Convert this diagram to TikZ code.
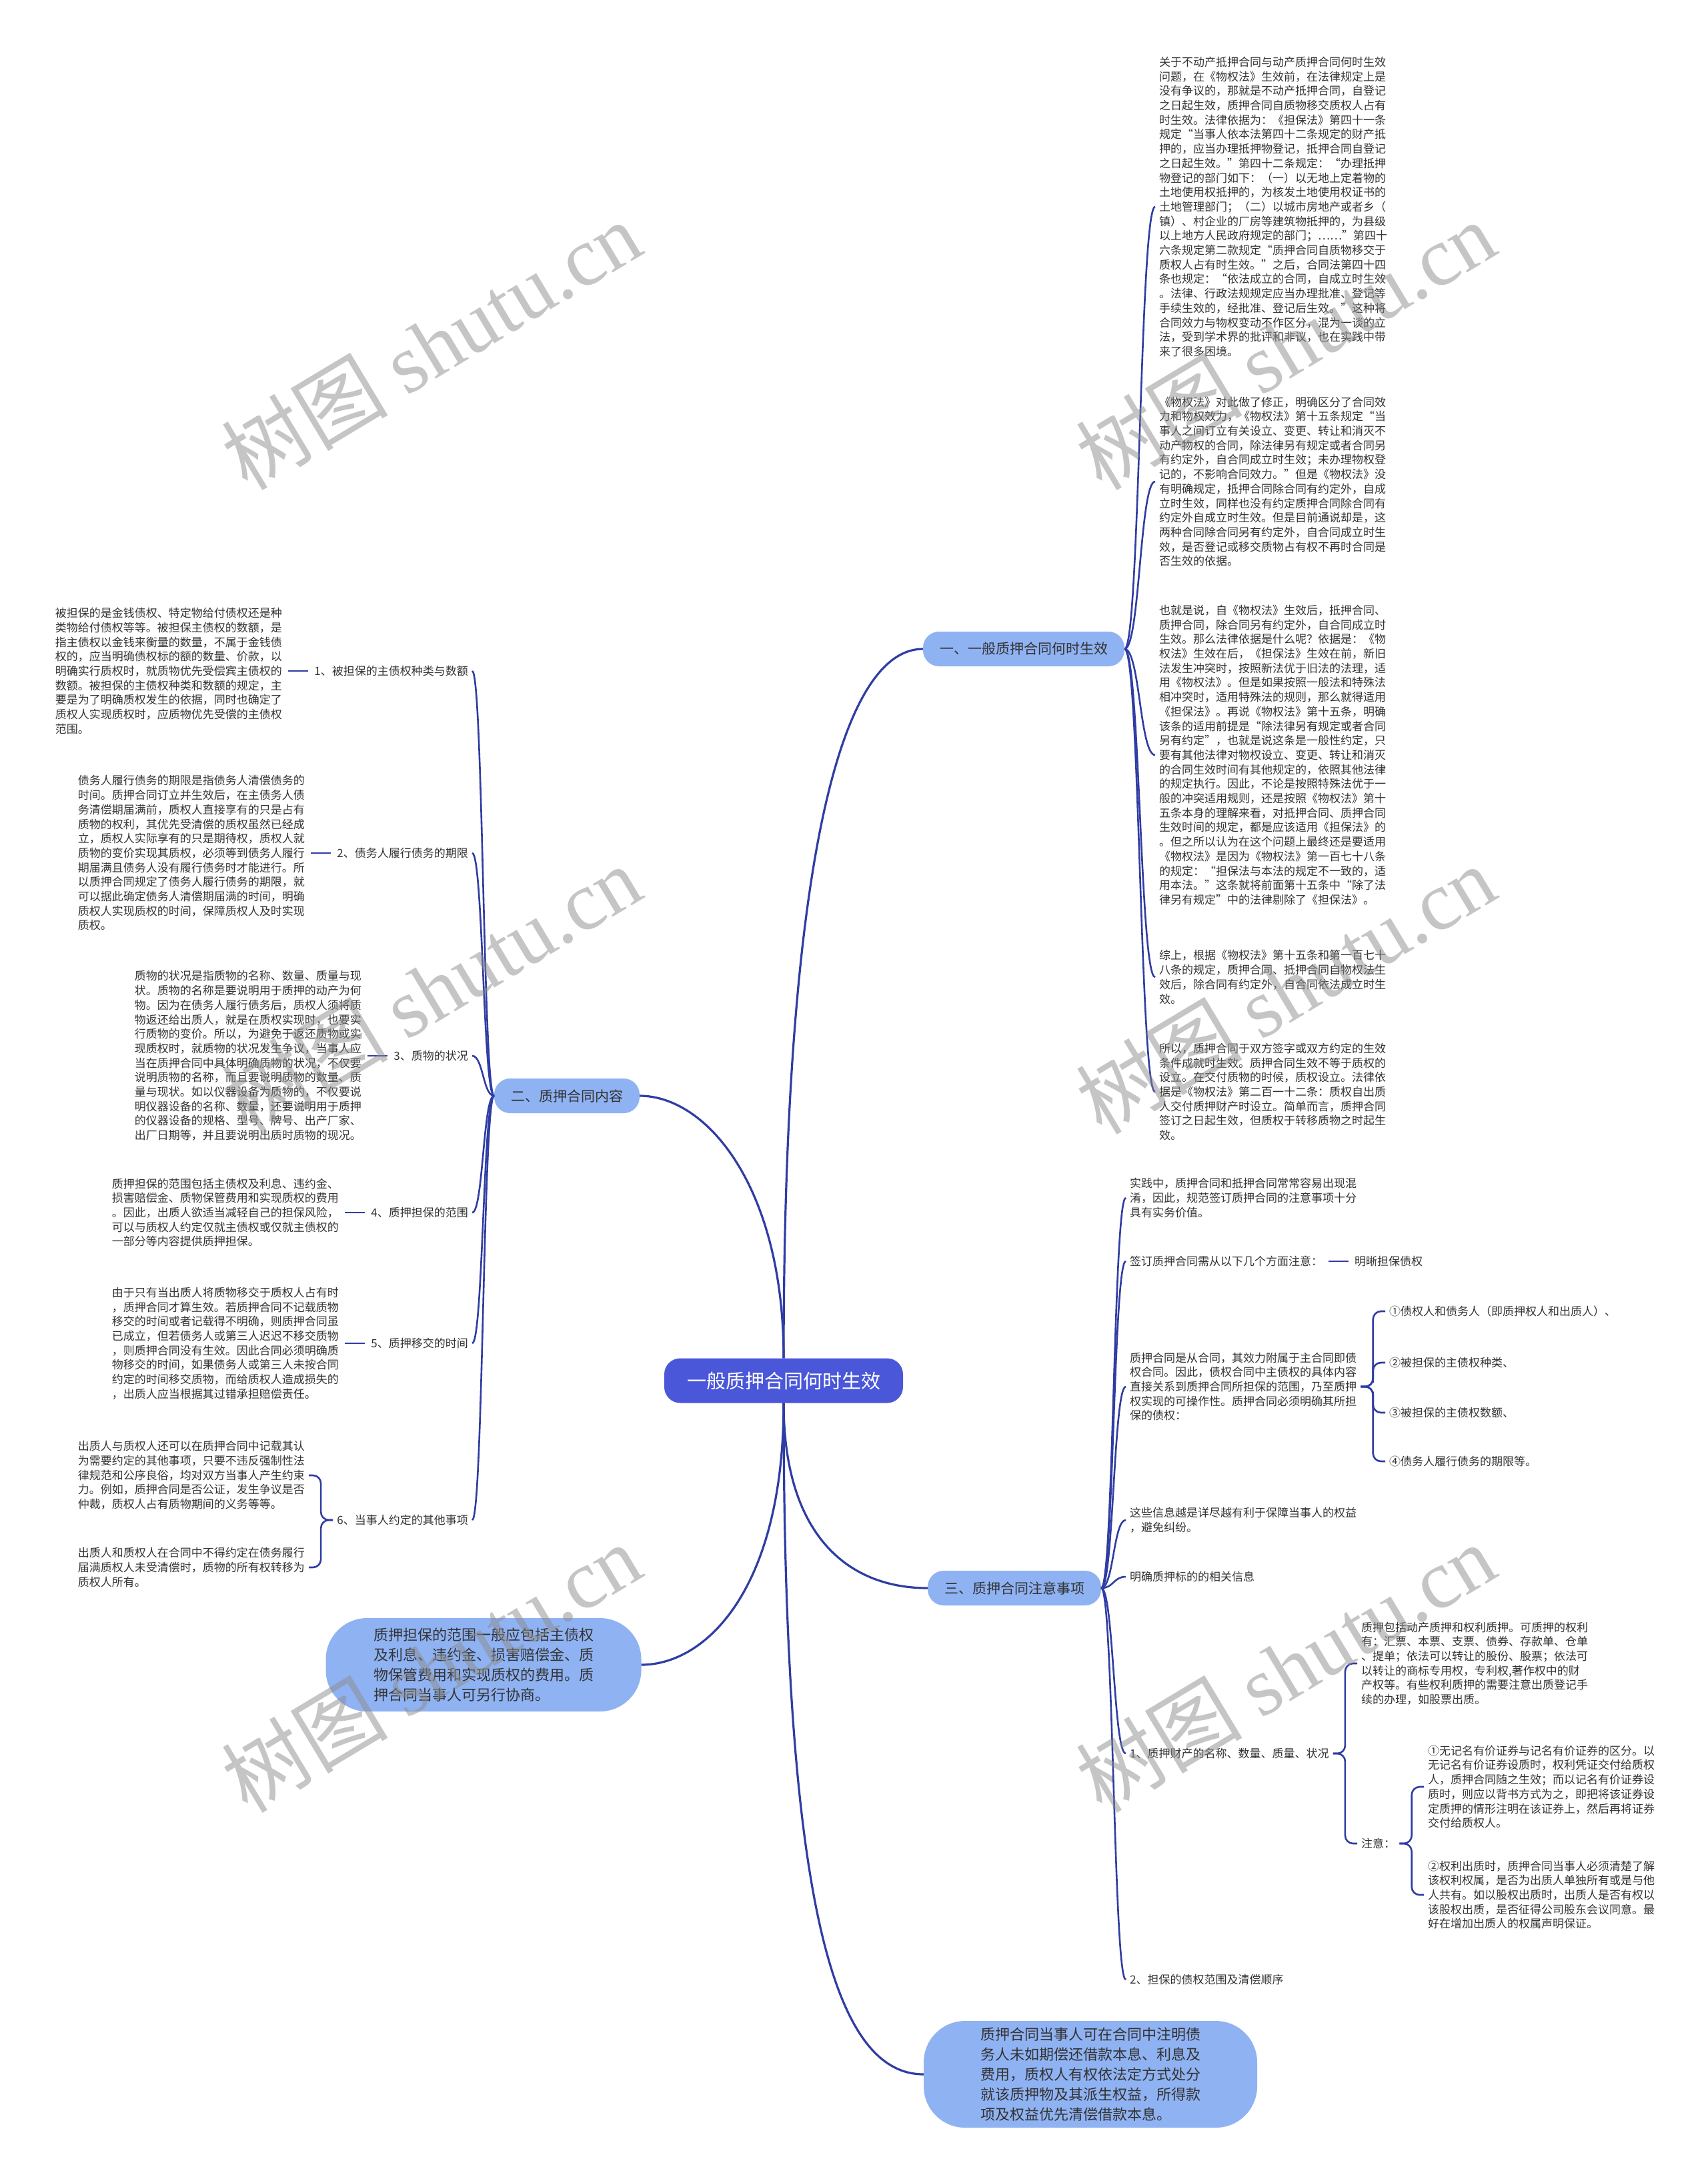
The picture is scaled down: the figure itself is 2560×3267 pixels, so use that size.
\documentclass[tikz,border=0pt]{standalone}
\usepackage{fontspec}
\setmainfont{Noto Sans CJK SC}
\newfontfamily\wmserif{Liberation Serif}
\usetikzlibrary{calc,positioning}
\definecolor{linec}{HTML}{2F3DA3}
\definecolor{rootc}{HTML}{4A57D8}
\definecolor{branchc}{HTML}{8FB2F2}
\definecolor{textc}{HTML}{333333}
\newcommand{\sconn}[2]{\draw[link] let \p1=(#1), \p2=(#2) in (\p1) .. controls ({(\x1+\x2)/2},\y1) and ({(\x1+\x2)/2},\y2) .. (\p2);}
\newcommand{\bconn}[2]{\draw[link,rounded corners=12pt] let \p1=(#1), \p2=(#2) in (\p1) -| ({(\x1+\x2)/2},{(\y1+\y2)/2}) |- (\p2);}
\begin{document}
\begin{tikzpicture}[x=1pt,y=-1pt,
  link/.style={draw=linec,line width=2.6pt},
  rootlink/.style={draw=linec,line width=3.2pt},
  dashlink/.style={draw=linec,line width=2.6pt,shorten <=3pt,shorten >=3pt},
  txt/.style={font=\fontsize{17pt}{21.7pt}\selectfont,align=left,inner sep=6pt,text=textc},
  rootnode/.style={fill=rootc,text=white,rounded corners=24pt,minimum width=358pt,minimum height=67pt,font=\fontsize{29pt}{34pt}\selectfont},
  branch/.style={fill=branchc,text=textc,rounded corners=24pt,minimum height=52pt,inner xsep=25pt,font=\fontsize{21pt}{25pt}\selectfont},
  bubble/.style={fill=branchc,text=textc,rounded corners=62pt,align=left,font=\fontsize{22pt}{30pt}\selectfont},
  wm/.style={text=black!45,opacity=0.5,rotate=31,font=\fontsize{125pt}{130pt}\selectfont}
]
\useasboundingbox (0,0) rectangle (2560,3267);
\fill[white] (0,0) rectangle (2560,3267);

% root and main branches
\node[rootnode] (root) at (1175,2070) {一般质押合同何时生效};
\node[branch] (b1) at (1535,973) {一、一般质押合同何时生效};
\node[branch] (b2) at (850,1643) {二、质押合同内容};
\node[branch] (b3) at (1521,2381) {三、质押合同注意事项};
\node[bubble,minimum width=473pt,minimum height=140pt] (bl) at (725,2496) {质押担保的范围一般应包括主债权\\及利息、违约金、损害赔偿金、质\\物保管费用和实现质权的费用。质\\押合同当事人可另行协商。};
\node[bubble,minimum width=500pt,minimum height=160pt] (bb) at (1635,3110) {质押合同当事人可在合同中注明债\\务人未如期偿还借款本息、利息及\\费用，质权人有权依法定方式处分\\就该质押物及其派生权益，所得款\\项及权益优先清偿借款本息。};

\draw[rootlink] (root.north) .. controls (1175,1300) and (1260,973) .. (b1.west);
\draw[rootlink] (root.north) .. controls (1175,1780) and (1060,1643) .. (b2.east);
\draw[rootlink] (root.south) .. controls (1175,2380) and (1060,2496) .. (bl.east);
\draw[rootlink] (root.south) .. controls (1175,2300) and (1270,2381) .. (b3.west);
\draw[rootlink] (root.south) .. controls (1175,2850) and (1250,3110) .. (bb.west);

% branch 1 blocks
\node[txt,anchor=west] (R1) at (1732,310) {关于不动产抵押合同与动产质押合同何时生效\\问题，在《物权法》生效前，在法律规定上是\\没有争议的，那就是不动产抵押合同，自登记\\之日起生效，质押合同自质物移交质权人占有\\时生效。法律依据为：《担保法》第四十一条\\规定“当事人依本法第四十二条规定的财产抵\\押的，应当办理抵押物登记，抵押合同自登记\\之日起生效。”第四十二条规定：“办理抵押\\物登记的部门如下：（一）以无地上定着物的\\土地使用权抵押的，为核发土地使用权证书的\\土地管理部门；（二）以城市房地产或者乡（\\镇）、村企业的厂房等建筑物抵押的，为县级\\以上地方人民政府规定的部门；……”第四十\\六条规定第二款规定“质押合同自质物移交于\\质权人占有时生效。”之后，合同法第四十四\\条也规定：“依法成立的合同，自成立时生效\\。法律、行政法规规定应当办理批准、登记等\\手续生效的，经批准、登记后生效。”这种将\\合同效力与物权变动不作区分，混为一谈的立\\法，受到学术界的批评和非议，也在实践中带\\来了很多困境。};
\node[txt,anchor=west] (R2) at (1732,722) {《物权法》对此做了修正，明确区分了合同效\\力和物权效力，《物权法》第十五条规定“当\\事人之间订立有关设立、变更、转让和消灭不\\动产物权的合同，除法律另有规定或者合同另\\有约定外，自合同成立时生效；未办理物权登\\记的，不影响合同效力。”但是《物权法》没\\有明确规定，抵押合同除合同有约定外，自成\\立时生效，同样也没有约定质押合同除合同有\\约定外自成立时生效。但是目前通说却是，这\\两种合同除合同另有约定外，自合同成立时生\\效，是否登记或移交质物占有权不再时合同是\\否生效的依据。};
\node[txt,anchor=west] (R3) at (1732,1132) {也就是说，自《物权法》生效后，抵押合同、\\质押合同，除合同另有约定外，自合同成立时\\生效。那么法律依据是什么呢？依据是：《物\\权法》生效在后，《担保法》生效在前，新旧\\法发生冲突时，按照新法优于旧法的法理，适\\用《物权法》。但是如果按照一般法和特殊法\\相冲突时，适用特殊法的规则，那么就得适用\\《担保法》。再说《物权法》第十五条，明确\\该条的适用前提是“除法律另有规定或者合同\\另有约定”，也就是说这条是一般性约定，只\\要有其他法律对物权设立、变更、转让和消灭\\的合同生效时间有其他规定的，依照其他法律\\的规定执行。因此，不论是按照特殊法优于一\\般的冲突适用规则，还是按照《物权法》第十\\五条本身的理解来看，对抵押合同、质押合同\\生效时间的规定，都是应该适用《担保法》的\\。但之所以认为在这个问题上最终还是要适用\\《物权法》是因为《物权法》第一百七十八条\\的规定：“担保法与本法的规定不一致的，适\\用本法。”这条就将前面第十五条中“除了法\\律另有规定”中的法律剔除了《担保法》。};
\node[txt,anchor=west] (R4) at (1732,1465) {综上，根据《物权法》第十五条和第一百七十\\八条的规定，质押合同、抵押合同自物权法生\\效后，除合同有约定外，自合同依法成立时生\\效。};
\node[txt,anchor=west] (R5) at (1732,1637) {所以，质押合同于双方签字或双方约定的生效\\条件成就时生效。质押合同生效不等于质权的\\设立。在交付质物的时候，质权设立。法律依\\据是《物权法》第二百一十二条：质权自出质\\人交付质押财产时设立。简单而言，质押合同\\签订之日起生效，但质权于转移质物之时起生\\效。};
\sconn{b1.east}{R1.west}
\sconn{b1.east}{R2.west}
\sconn{b1.east}{R3.west}
\sconn{b1.east}{R4.west}
\sconn{b1.east}{R5.west}

% branch 2
\node[txt,anchor=east] (L1) at (708,1006) {1、被担保的主债权种类与数额};
\node[txt,anchor=east] (L2) at (708,1279) {2、债务人履行债务的期限};
\node[txt,anchor=east] (L3) at (708,1583) {3、质物的状况};
\node[txt,anchor=east] (L4) at (708,1818) {4、质押担保的范围};
\node[txt,anchor=east] (L5) at (708,2014) {5、质押移交的时间};
\node[txt,anchor=east] (L6) at (708,2279) {6、当事人约定的其他事项};
\sconn{b2.west}{L1.east}
\sconn{b2.west}{L2.east}
\sconn{b2.west}{L3.east}
\sconn{b2.west}{L4.east}
\sconn{b2.west}{L5.east}
\sconn{b2.west}{L6.east}

\node[txt,left=36pt of L1] (T1) {被担保的是金钱债权、特定物给付债权还是种\\类物给付债权等等。被担保主债权的数额，是\\指主债权以金钱来衡量的数量，不属于金钱债\\权的，应当明确债权标的额的数量、价款，以\\明确实行质权时，就质物优先受偿宾主债权的\\数额。被担保的主债权种类和数额的规定，主\\要是为了明确质权发生的依据，同时也确定了\\质权人实现质权时，应质物优先受偿的主债权\\范围。};
\node[txt,left=36pt of L2] (T2) {债务人履行债务的期限是指债务人清偿债务的\\时间。质押合同订立并生效后，在主债务人债\\务清偿期届满前，质权人直接享有的只是占有\\质物的权利，其优先受清偿的质权虽然已经成\\立，质权人实际享有的只是期待权，质权人就\\质物的变价实现其质权，必须等到债务人履行\\期届满且债务人没有履行债务时才能进行。所\\以质押合同规定了债务人履行债务的期限，就\\可以据此确定债务人清偿期届满的时间，明确\\质权人实现质权的时间，保障质权人及时实现\\质权。};
\node[txt,left=36pt of L3] (T3) {质物的状况是指质物的名称、数量、质量与现\\状。质物的名称是要说明用于质押的动产为何\\物。因为在债务人履行债务后，质权人须将质\\物返还给出质人，就是在质权实现时，也要实\\行质物的变价。所以，为避免于返还质物或实\\现质权时，就质物的状况发生争议，当事人应\\当在质押合同中具体明确质物的状况，不仅要\\说明质物的名称，而且要说明质物的数量、质\\量与现状。如以仪器设备为质物的，不仅要说\\明仪器设备的名称、数量，还要说明用于质押\\的仪器设备的规格、型号、牌号、出产厂家、\\出厂日期等，并且要说明出质时质物的现况。};
\node[txt,left=36pt of L4] (T4) {质押担保的范围包括主债权及利息、违约金、\\损害赔偿金、质物保管费用和实现质权的费用\\。因此，出质人欲适当减轻自己的担保风险，\\可以与质权人约定仅就主债权或仅就主债权的\\一部分等内容提供质押担保。};
\node[txt,left=36pt of L5] (T5) {由于只有当出质人将质物移交于质权人占有时\\，质押合同才算生效。若质押合同不记载质物\\移交的时间或者记载得不明确，则质押合同虽\\已成立，但若债务人或第三人迟迟不移交质物\\，则质押合同没有生效。因此合同必须明确质\\物移交的时间，如果债务人或第三人未按合同\\约定的时间移交质物，而给质权人造成损失的\\，出质人应当根据其过错承担赔偿责任。};
\coordinate (L6w) at ([xshift=-36pt]L6.west);
\coordinate (y6a) at (0,2212);
\coordinate (y6b) at (0,2350);
\node[txt,anchor=east] (T6a) at (L6w |- y6a) {出质人与质权人还可以在质押合同中记载其认\\为需要约定的其他事项，只要不违反强制性法\\律规范和公序良俗，均对双方当事人产生约束\\力。例如，质押合同是否公证，发生争议是否\\仲裁，质权人占有质物期间的义务等等。};
\node[txt,anchor=east] (T6b) at (L6w |- y6b) {出质人和质权人在合同中不得约定在债务履行\\届满质权人未受清偿时，质物的所有权转移为\\质权人所有。};
\draw[dashlink] (T1.east) -- (L1.west);
\draw[dashlink] (T2.east) -- (L2.west);
\draw[dashlink] (T3.east) -- (L3.west);
\draw[dashlink] (T4.east) -- (L4.west);
\draw[dashlink] (T5.east) -- (L5.west);
\bconn{L6.west}{T6a.east}
\bconn{L6.west}{T6b.east}

% branch 3
\node[txt,anchor=west] (A) at (1688,1796) {实践中，质押合同和抵押合同常常容易出现混\\淆，因此，规范签订质押合同的注意事项十分\\具有实务价值。};
\node[txt,anchor=west] (B) at (1688,1891) {签订质押合同需从以下几个方面注意：};
\node[txt,anchor=west] (H) at (2025,1891) {明晰担保债权};
\node[txt,anchor=west] (C) at (1688,2079) {质押合同是从合同，其效力附属于主合同即债\\权合同。因此，债权合同中主债权的具体内容\\直接关系到质押合同所担保的范围，乃至质押\\权实现的可操作性。质押合同必须明确其所担\\保的债权：};
\node[txt,anchor=west] (I1) at (2077,1966) {①债权人和债务人（即质押权人和出质人）、};
\node[txt,anchor=west] (I2) at (2077,2043) {②被担保的主债权种类、};
\node[txt,anchor=west] (I3) at (2077,2118) {③被担保的主债权数额、};
\node[txt,anchor=west] (I4) at (2077,2191) {④债务人履行债务的期限等。};
\node[txt,anchor=west] (D) at (1688,2279) {这些信息越是详尽越有利于保障当事人的权益\\，避免纠纷。};
\node[txt,anchor=west] (E) at (1688,2364) {明确质押标的的相关信息};
\node[txt,anchor=west] (F) at (1688,2629) {1、质押财产的名称、数量、质量、状况};
\node[txt,anchor=west] (F1) at (2035,2494) {质押包括动产质押和权利质押。可质押的权利\\有：汇票、本票、支票、债券、存款单、仓单\\、提单；依法可以转让的股份、股票；依法可\\以转让的商标专用权，专利权,著作权中的财\\产权等。有些权利质押的需要注意出质登记手\\续的办理，如股票出质。};
\node[txt,anchor=west] (F2) at (2035,2764) {注意：};
\node[txt,anchor=west] (F2a) at (2135,2679) {①无记名有价证券与记名有价证券的区分。以\\无记名有价证券设质时，权利凭证交付给质权\\人，质押合同随之生效；而以记名有价证券设\\质时，则应以背书方式为之，即把将该证券设\\定质押的情形注明在该证券上，然后再将证券\\交付给质权人。};
\node[txt,anchor=west] (F2b) at (2135,2841) {②权利出质时，质押合同当事人必须清楚了解\\该权利权属，是否为出质人单独所有或是与他\\人共有。如以股权出质时，出质人是否有权以\\该股权出质，是否征得公司股东会议同意。最\\好在增加出质人的权属声明保证。};
\node[txt,anchor=west] (G) at (1688,2968) {2、担保的债权范围及清偿顺序};
\sconn{b3.east}{A.west}
\sconn{b3.east}{B.west}
\sconn{b3.east}{C.west}
\sconn{b3.east}{D.west}
\sconn{b3.east}{E.west}
\sconn{b3.east}{F.west}
\sconn{b3.east}{G.west}
\draw[dashlink] (B.east) -- (H.west);
\bconn{C.east}{I1.west}
\bconn{C.east}{I2.west}
\bconn{C.east}{I3.west}
\bconn{C.east}{I4.west}
\bconn{F.east}{F1.west}
\bconn{F.east}{F2.west}
\bconn{F2.east}{F2a.west}
\bconn{F2.east}{F2b.west}

% watermarks
\node[wm] (w1) at (646,517) {树图 {\wmserif shutu.cn}};
\node[wm] (w2) at (1927,517) {树图 {\wmserif shutu.cn}};
\node[wm] (w3) at (646,1483) {树图 {\wmserif shutu.cn}};
\node[wm] (w4) at (1927,1483) {树图 {\wmserif shutu.cn}};
\node[wm] (w5) at (646,2500) {树图 {\wmserif shutu.cn}};
\node[wm] (w6) at (1927,2500) {树图 {\wmserif shutu.cn}};
\end{tikzpicture}
\end{document}
